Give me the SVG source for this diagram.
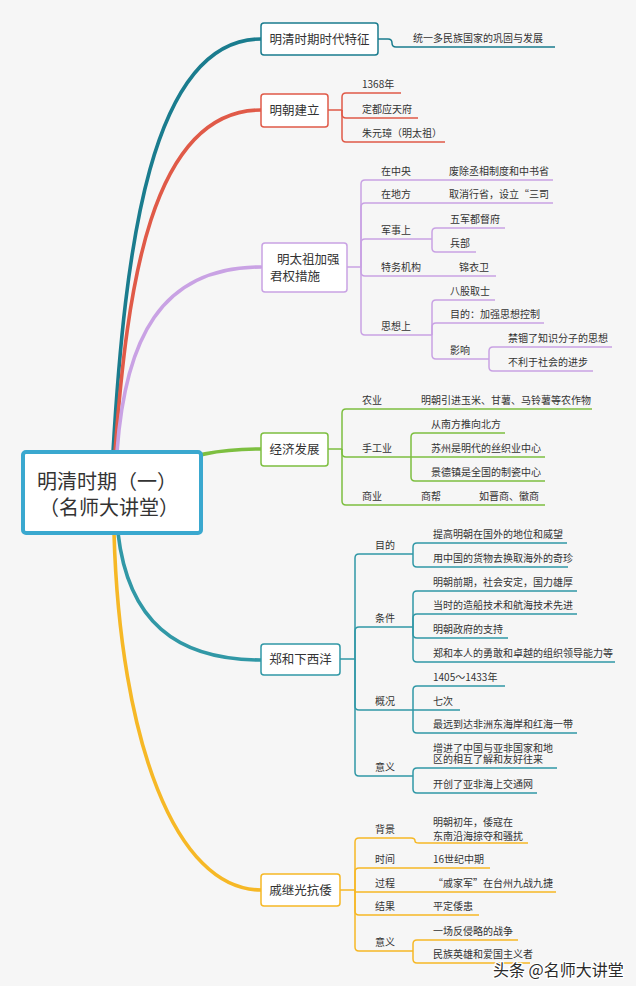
<svg xmlns="http://www.w3.org/2000/svg" width="640" height="992" viewBox="0 0 640 992">
<style>
text{font-family:"Noto Sans CJK SC","Noto Sans",sans-serif;fill:#333}
.s{font-size:10px}
.n{font-size:12.5px}
.c{font-size:20px}
.m{text-anchor:middle}
.main{fill:none;stroke-width:3.6;stroke-linecap:round}
.sub{fill:none;stroke-width:1.5}
.box{fill:#fff;stroke-width:1.5}
.t1{stroke:#1a7c8e}.r{stroke:#e05a48}.p{stroke:#c9a2e4}.g{stroke:#7dbf40}.t2{stroke:#3198a6}.y{stroke:#f6b826}
</style>
<rect x="0" y="0" width="640" height="992" fill="#ffffff"/>
<rect x="0" y="0" width="636" height="986" fill="#f6f6f6"/>
<g id="connectors">
<path class="main t1" d="M113,470 L113,452 C125,250 150,39 261,39"/>
<path class="main r" d="M115,470 L115,452 C127,290 150,110 261,110"/>
<path class="main p" d="M117,470 L117,452 C125,340 160,267 261,267"/>
<path class="main g" d="M150,470 C195,455 215,449 261,449"/>
<path class="main t2" d="M118,520 L118,533 C128,620 175,660 261,660"/>
<path class="main y" d="M114,520 L114,533 C120,740 175,890 261,890"/>
<!-- N1 -->
<path class="sub t1" d="M378,39 H388 Q392,39 392,43 Q392,47 396,47 H555"/>
<!-- N2 -->
<path class="sub r" d="M328,110 H342 V97 Q342,93 346,93 H401"/>
<path class="sub r" d="M342,110 V114 Q342,118 346,118 H418"/>
<path class="sub r" d="M342,110 V138 Q342,142 346,142 H445"/>
<!-- N3 -->
<path class="sub p" d="M347,267 H361 V184 Q361,180 365,180 H553"/>
<path class="sub p" d="M361,267 V207 Q361,203 365,203 H553"/>
<path class="sub p" d="M361,267 V243 Q361,239 365,239 H432"/>
<path class="sub p" d="M432,239 V232 Q432,228 436,228 H505"/>
<path class="sub p" d="M432,239 V248 Q432,252 436,252 H476"/>
<path class="sub p" d="M361,267 V272 Q361,276 365,276 H496"/>
<path class="sub p" d="M361,267 V331 Q361,335 365,335 H432"/>
<path class="sub p" d="M432,335 V304 Q432,300 436,300 H495"/>
<path class="sub p" d="M432,335 V327 Q432,323 436,323 H544"/>
<path class="sub p" d="M432,335 V355 Q432,359 436,359 H489"/>
<path class="sub p" d="M489,359 V351 Q489,347 493,347 H612"/>
<path class="sub p" d="M489,359 V367 Q489,371 493,371 H593"/>
<!-- N4 -->
<path class="sub g" d="M328,449 H342 V413 Q342,409 346,409 H592"/>
<path class="sub g" d="M342,449 V453 Q342,457 346,457 H411"/>
<path class="sub g" d="M411,457 V437 Q411,433 415,433 H505"/>
<path class="sub g" d="M411,457 H545"/>
<path class="sub g" d="M411,457 V477 Q411,481 415,481 H545"/>
<path class="sub g" d="M342,449 V501 Q342,505 346,505 H545"/>
<!-- N5 -->
<path class="sub t2" d="M340,659 H355 V558 Q355,554 359,554 H413"/>
<path class="sub t2" d="M413,554 V547 Q413,543 417,543 H567"/>
<path class="sub t2" d="M413,554 V563 Q413,567 417,567 H568"/>
<path class="sub t2" d="M355,659 V631 Q355,627 359,627 H413"/>
<path class="sub t2" d="M413,627 V595 Q413,591 417,591 H577"/>
<path class="sub t2" d="M413,627 V618 Q413,614 417,614 H577"/>
<path class="sub t2" d="M413,627 V634 Q413,638 417,638 H508"/>
<path class="sub t2" d="M413,627 V658 Q413,662 417,662 H615"/>
<path class="sub t2" d="M355,659 V706 Q355,710 359,710 H460"/>
<path class="sub t2" d="M413,710 V690 Q413,686 417,686 H505"/>
<path class="sub t2" d="M413,710 V729 Q413,733 417,733 H577"/>
<path class="sub t2" d="M355,659 V772 Q355,776 359,776 H413"/>
<path class="sub t2" d="M413,776 V772 Q413,768 417,768 H557"/>
<path class="sub t2" d="M413,776 V789 Q413,793 417,793 H537"/>
<!-- N6 -->
<path class="sub y" d="M340,890 H355 V842 Q355,838 359,838 H411 Q415,838 415,841 Q415,843 419,843 H528"/>
<path class="sub y" d="M355,890 V872 Q355,868 359,868 H490"/>
<path class="sub y" d="M355,890 V892 H556"/>
<path class="sub y" d="M355,890 V911 Q355,915 359,915 H479"/>
<path class="sub y" d="M355,890 V947 Q355,951 359,951 H413"/>
<path class="sub y" d="M413,951 V944 Q413,940 417,940 H518"/>
<path class="sub y" d="M413,951 V959 Q413,963 417,963 H530"/>
</g>
<g id="n1">
<rect class="box t1" x="261" y="23" width="117" height="32" rx="3"/>
<text class="n m" x="319.5" y="43.5">明清时期时代特征</text>
<text class="s" x="413" y="42">统一多民族国家的巩固与发展</text>
</g>
<g id="n2">
<rect class="box r" x="261" y="94" width="67" height="33" rx="3"/>
<text class="n m" x="294.5" y="115">明朝建立</text>
<text class="s" x="362" y="88">1368年</text>
<text class="s" x="362" y="113">定都应天府</text>
<text class="s" x="362" y="137">朱元璋（明太祖）</text>
</g>
<g id="n3">
<rect class="box p" x="262" y="243" width="85" height="49" rx="3"/>
<text class="n" x="277" y="263.5">明太祖加强</text>
<text class="n" x="270" y="280.5">君权措施</text>
<text class="s" x="381" y="175">在中央</text>
<text class="s" x="449" y="175">废除丞相制度和中书省</text>
<text class="s" x="381" y="198">在地方</text>
<text class="s" x="449" y="198">取消行省，设立“三司</text>
<text class="s" x="381" y="234">军事上</text>
<text class="s" x="450" y="223">五军都督府</text>
<text class="s" x="450" y="247">兵部</text>
<text class="s" x="381" y="271">特务机构</text>
<text class="s" x="459" y="271">锦衣卫</text>
<text class="s" x="381" y="330">思想上</text>
<text class="s" x="450" y="295">八股取士</text>
<text class="s" x="450" y="318">目的：加强思想控制</text>
<text class="s" x="450" y="354">影响</text>
<text class="s" x="508" y="342">禁锢了知识分子的思想</text>
<text class="s" x="508" y="366">不利于社会的进步</text>
</g>
<g id="n4">
<rect class="box g" x="261" y="433" width="67" height="33" rx="3"/>
<text class="n m" x="294.5" y="454">经济发展</text>
<text class="s" x="362" y="404">农业</text>
<text class="s" x="421" y="404">明朝引进玉米、甘薯、马铃薯等农作物</text>
<text class="s" x="362" y="452">手工业</text>
<text class="s" x="431" y="428">从南方推向北方</text>
<text class="s" x="431" y="452">苏州是明代的丝织业中心</text>
<text class="s" x="431" y="476">景德镇是全国的制瓷中心</text>
<text class="s" x="362" y="500">商业</text>
<text class="s" x="421" y="500">商帮</text>
<text class="s" x="479" y="500">如晋商、徽商</text>
</g>
<g id="n5">
<rect class="box t2" x="261" y="644" width="79" height="31" rx="3"/>
<text class="n m" x="300.5" y="664">郑和下西洋</text>
<text class="s" x="375" y="549">目的</text>
<text class="s" x="433" y="538">提高明朝在国外的地位和威望</text>
<text class="s" x="433" y="562">用中国的货物去换取海外的奇珍</text>
<text class="s" x="375" y="622">条件</text>
<text class="s" x="433" y="586">明朝前期，社会安定，国力雄厚</text>
<text class="s" x="433" y="609">当时的造船技术和航海技术先进</text>
<text class="s" x="433" y="633">明朝政府的支持</text>
<text class="s" x="433" y="657">郑和本人的勇敢和卓越的组织领导能力等</text>
<text class="s" x="375" y="705">概况</text>
<text class="s" x="433" y="681">1405～1433年</text>
<text class="s" x="433" y="705">七次</text>
<text class="s" x="433" y="728">最远到达非洲东海岸和红海一带</text>
<text class="s" x="375" y="771">意义</text>
<text class="s" x="433" y="752">增进了中国与亚非国家和地</text>
<text class="s" x="433" y="763">区的相互了解和友好往来</text>
<text class="s" x="433" y="788">开创了亚非海上交通网</text>
</g>
<g id="n6">
<rect class="box y" x="261" y="874" width="79" height="32" rx="3"/>
<text class="n m" x="300.5" y="894.5">戚继光抗倭</text>
<text class="s" x="375" y="833">背景</text>
<text class="s" x="433" y="826">明朝初年，倭寇在</text>
<text class="s" x="433" y="840">东南沿海掠夺和骚扰</text>
<text class="s" x="375" y="863">时间</text>
<text class="s" x="433" y="863">16世纪中期</text>
<text class="s" x="375" y="887">过程</text>
<text class="s" x="433" y="887">“戚家军”在台州九战九捷</text>
<text class="s" x="375" y="910">结果</text>
<text class="s" x="433" y="910">平定倭患</text>
<text class="s" x="375" y="946">意义</text>
<text class="s" x="433" y="935">一场反侵略的战争</text>
<text class="s" x="433" y="958">民族英雄和爱国主义者</text>
</g>
<g id="center">
<rect x="23" y="452" width="178" height="81" rx="3" fill="#fff" stroke="#3aa8cf" stroke-width="4"/>
<text class="c" x="37" y="489">明清时期（一）</text>
<text class="c" x="39" y="515">（名师大讲堂）</text>
</g>
<g id="watermark">
<text x="493" y="976" style="font-size:16px;fill:#2b2b2b;stroke:#ffffff;stroke-width:2.5;paint-order:stroke">头条 @名师大讲堂</text>
</g>
</svg>
